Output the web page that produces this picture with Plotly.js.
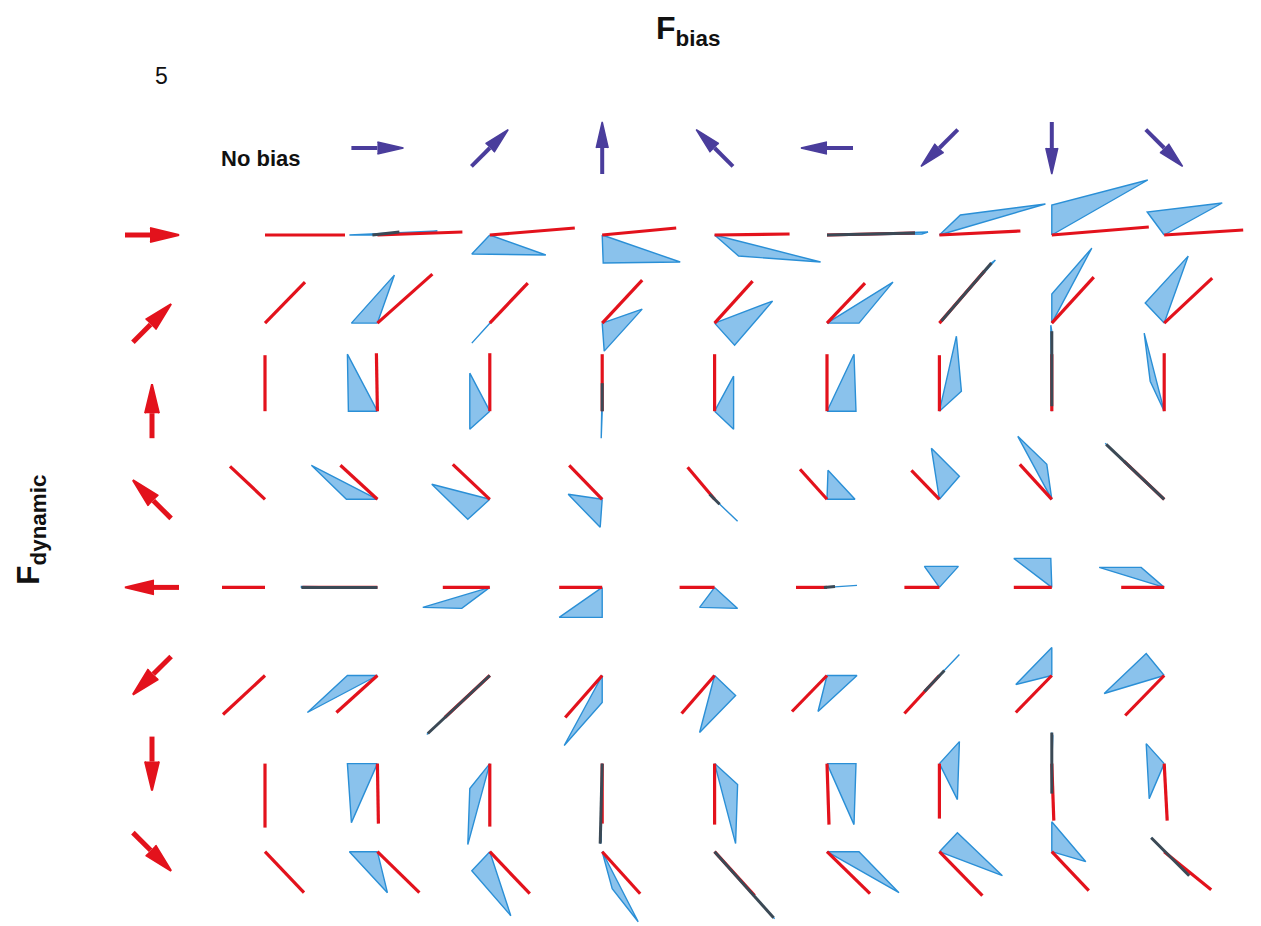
<!DOCTYPE html>
<html>
<head>
<meta charset="utf-8">
<script src="https://cdn.plot.ly/plotly-3.0.1.min.js"></script>
<style>
html,body{margin:0;padding:0;background:#fff;}
#chart{width:1261px;height:926px;}
</style>
</head>
<body>
<div id="chart"></div>
<script>
// ---------------- DATA ----------------
// directions (degrees, counter-clockwise from +x) of the dynamic force (rows) and bias force (columns)
const dynamicAngles = [0, 45, 90, 135, 180, 225, 270, 315];
const biasAngles    = [0, 45, 90, 135, 180, 225, 270, 315];
const columnLabels  = ["No bias", "0°", "45°", "90°", "135°", "180°", "225°", "270°", "315°"];

// red trace end vector [dx, dy] (y up) for each dynamic row, each column (No bias + 8 bias directions)
const redEnd = [
  [[80,0],[85,3],[85,7],[74,7],[75,1],[88,2],[81,4],[97,8],[79,5]],
  [[40,41],[55,49],[38,40],[40,43],[38,42],[38,40],[45,52],[42,46],[48,45]],
  [[0,56],[-1,58],[0,58],[0,57],[0,57],[0,57],[0,56],[0,57],[0,58]],
  [[-35,33],[-37,34],[-37,35],[-33,34],[-27,32],[-27,30],[-28,29],[-32,35],[-40,38]],
  [[-43,0],[-75,0],[-47,0],[-43,0],[-35,0],[-31,0],[-35,0],[-38,0],[-43,0]],
  [[-42,-39],[-41,-37],[-45,-42],[-37,-42],[-33,-38],[-35,-36],[-35,-38],[-36,-37],[-39,-40]],
  [[0,-64],[1,-60],[0,-63],[0,-60],[0,-61],[2,-61],[0,-55],[2,-57],[3,-57]],
  [[39,-41],[42,-41],[40,-42],[38,-42],[40,-44],[43,-42],[43,-44],[37,-39],[47,-38]]
];

// blue fan: first edge end vector and last edge end vector (null = no fan)
const fanStart = [
  [null,[-28,0],[-18,-19],[1,-28],[24,-21],[95,1],[21,20],[0,30],[-17,23]],
  [null,[-26,0],[-18,-20],[2,-28],[20,-22],[32,0],[52,60],[0,29],[-19,20]],
  [null,[-29,0],[-20,38],[-1,-27],[19,35],[27,57],[17,75],[-1,86],[-20,78]],
  [null,[-66,34],[-58,15],[-34,5],[5,-5],[1,29],[-8,51],[-34,63],[-57,54]],
  [null,[-76,0],[-67,-20],[-43,-30],[-15,-20],[15,1],[-15,21],[-38,29],[-65,20]],
  [null,[-30,0],[-61,-57],[0,-27],[21,-20],[30,0],[18,19],[-36,-9],[-60,-18]],
  [null,[-30,0],[-20,-25],[-2,-80],[23,-21],[29,0],[20,22],[0,31],[-18,20]],
  [null,[-28,0],[-18,-19],[10,-37],[58,-65],[32,0],[18,19],[0,30],[-13,14]]
];
const fanEnd = [
  [null,[60,4],[56,-20],[78,-27],[106,-27],[101,3],[106,31],[96,55],[58,32]],
  [null,[17,48],[35,38],[40,14],[58,22],[66,41],[56,63],[40,75],[24,67]],
  [null,[-30,57],[-20,-18],[0,28],[19,-18],[29,0],[22,20],[0,80],[-14,30]],
  [null,[-31,0],[-22,-20],[-2,-28],[23,-22],[28,0],[20,23],[-5,35],[-59,56]],
  [null,[-76,1],[-28,-21],[0,-30],[23,-21],[30,2],[19,21],[-1,29],[-23,20]],
  [null,[-70,-37],[-63,-59],[-38,-70],[-15,-57],[-9,-36],[20,21],[0,28],[-18,22]],
  [null,[-26,-59],[-22,-81],[-1,-78],[21,-80],[27,-61],[18,-36],[1,28],[-15,-35]],
  [null,[10,-41],[21,-64],[36,-70],[60,-67],[72,-41],[63,-24],[34,-10],[-11,12]]
];

// segments where the blue and red traces overlap (drawn dark): [row, col, x1, y1, x2, y2]
const overlapSegments = [
  [0,1,-5,0,22,3], [0,5,0,0,88,2],
  [1,6,2,2,52,60],
  [2,3,0,0,0,28], [2,7,0,5,0,80],
  [3,4,-5,5,5,-5], [3,8,0,0,-58,55],
  [4,1,0,0,-76,0], [4,5,-3,0,8,1],
  [5,2,0,0,-62,-58], [5,6,-15,-16,5,5],
  [6,3,0,0,-2,-80], [6,7,0,31,0,-30],
  [7,4,0,0,59,-66], [7,8,-13,14,25,-24]
];

// ---------------- LAYOUT GEOMETRY ----------------
const GRID = {x0: 265, dx: 112.4, y0: 235, dy: 88.1, arrowX: 152, headerY: 148};
const cellX = c => GRID.x0 + c * GRID.dx;       // c = 0..8 (0 = No bias)
const cellY = r => GRID.y0 + r * GRID.dy;       // r = 0..7

// ---------------- BUILD TRACES ----------------
const fanX = [], fanY = [];
const redX = [], redY = [];
const darkX = [], darkY = [];
for (let r = 0; r < 8; r++) {
  for (let c = 0; c < 9; c++) {
    const ox = cellX(c), oy = cellY(r);
    const e = redEnd[r][c];
    redX.push(ox, ox + e[0], null);
    redY.push(oy, oy - e[1], null);
    const a = fanStart[r][c], b = fanEnd[r][c];
    if (a && b) {
      fanX.push(ox, ox + a[0], ox + b[0], ox, null);
      fanY.push(oy, oy - a[1], oy - b[1], oy, null);
    }
  }
}
overlapSegments.forEach(s => {
  const ox = cellX(s[1]), oy = cellY(s[0]);
  darkX.push(ox + s[2], ox + s[4], null);
  darkY.push(oy - s[3], oy - s[5], null);
});

function arrows(angles, centers, len, headLen, headW) {
  const shaftX = [], shaftY = [], headX = [], headY = [];
  angles.forEach((ang, i) => {
    const t = ang * Math.PI / 180;
    const ux = Math.cos(t), uy = -Math.sin(t);   // screen y down
    const nx = -uy, ny = ux;
    const [cx, cy] = centers[i];
    const tipX = cx + ux * len / 2, tipY = cy + uy * len / 2;
    const tailX = cx - ux * len / 2, tailY = cy - uy * len / 2;
    const bX = tipX - ux * headLen, bY = tipY - uy * headLen;
    shaftX.push(tailX, bX, null); shaftY.push(tailY, bY, null);
    headX.push(bX + nx * headW / 2, tipX, bX - nx * headW / 2, null);
    headY.push(bY + ny * headW / 2, tipY, bY - ny * headW / 2, null);
  });
  return {shaftX, shaftY, headX, headY};
}

const dynArr = arrows(dynamicAngles, dynamicAngles.map((_, r) => [GRID.arrowX, cellY(r)]), 54, 29, 14);
const biasArr = arrows(biasAngles, biasAngles.map((_, c) => [cellX(c + 1), GRID.headerY]), 52, 26, 12);

const RED = '#e3121c', BLUE = '#2a8fd6', PURPLE = '#4a3d9c', DARK = '#3b4955';

const traces = [
  {x: fanX, y: fanY, mode: 'lines', fill: 'toself', fillcolor: 'rgba(66,156,224,0.62)',
   line: {color: BLUE, width: 1.4}, hoverinfo: 'skip', name: 'blue'},
  {x: redX, y: redY, mode: 'lines', line: {color: RED, width: 3.2}, hoverinfo: 'skip', name: 'red'},
  {x: darkX, y: darkY, mode: 'lines', line: {color: DARK, width: 3}, hoverinfo: 'skip', name: 'overlap'},
  {x: dynArr.shaftX, y: dynArr.shaftY, mode: 'lines', line: {color: RED, width: 5}, hoverinfo: 'skip'},
  {x: dynArr.headX, y: dynArr.headY, mode: 'lines', fill: 'toself', fillcolor: RED,
   line: {color: RED, width: 2}, hoverinfo: 'skip'},
  {x: biasArr.shaftX, y: biasArr.shaftY, mode: 'lines', line: {color: PURPLE, width: 4}, hoverinfo: 'skip'},
  {x: biasArr.headX, y: biasArr.headY, mode: 'lines', fill: 'toself', fillcolor: PURPLE,
   line: {color: PURPLE, width: 1.5}, hoverinfo: 'skip'}
];

const FONT = 'Liberation Sans, Arial, Helvetica, sans-serif';
const layout = {
  width: 1261, height: 926,
  margin: {l: 0, r: 0, t: 0, b: 0},
  paper_bgcolor: '#ffffff', plot_bgcolor: '#ffffff',
  showlegend: false,
  xaxis: {range: [0, 1261], visible: false, fixedrange: true},
  yaxis: {range: [926, 0], visible: false, fixedrange: true},
  annotations: [
    {x: 688, y: 30, xref: 'x', yref: 'y', text: '<b>F<sub>bias</sub></b>', showarrow: false,
     font: {family: FONT, size: 32, color: '#111'}},
    {x: 161, y: 76, xref: 'x', yref: 'y', text: '5', showarrow: false,
     font: {family: FONT, size: 23, color: '#111'}},
    {x: 260, y: 158, xref: 'x', yref: 'y', text: '<b>' + columnLabels[0] + '</b>', showarrow: false,
     font: {family: FONT, size: 22, color: '#111'}},
    {x: 30, y: 530, xref: 'x', yref: 'y', text: '<b>F<sub>dynamic</sub></b>', showarrow: false,
     textangle: -90, font: {family: FONT, size: 32, color: '#111'}}
  ]
};

Plotly.newPlot('chart', traces, layout, {staticPlot: true, displayModeBar: false});
</script>
</body>
</html>
